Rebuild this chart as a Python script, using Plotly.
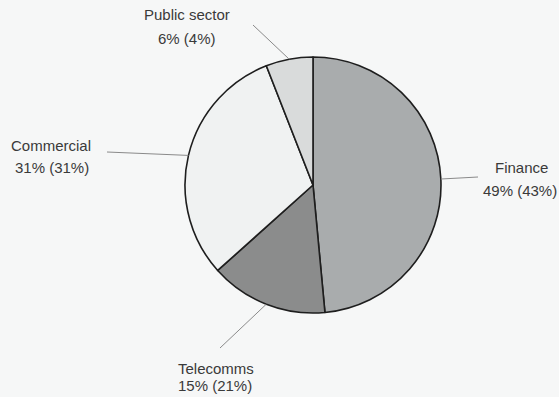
import math
import plotly.graph_objects as go

# Market sectors: current share and (in brackets) previous share, in %
sectors = ["Finance", "Telecomms", "Commercial", "Public sector"]
share_now = [49, 15, 31, 6]
share_prev = [43, 21, 31, 4]
slice_colors = ["#a9acad", "#8b8c8c", "#f0f2f2", "#d9dbdb"]

W, H = 559, 397
CX, CY, R = 313, 185, 128  # pie centre and radius in pixels

# Where each label block sits (pixel centres of its two lines) and
# where its leader line starts away from the pie
label_pos = {
    "Finance": ((521, 168), (520, 190)),
    "Telecomms": ((216, 368), (215, 385)),
    "Commercial": ((51, 145), (52, 167)),
    "Public sector": ((187, 15), (187, 38)),
}
leader_start = {
    "Finance": (478, 177),
    "Telecomms": (220, 348),
    "Commercial": (107, 152),
    "Public sector": (253, 25),
}


def px(x, y):
    return x / W, 1 - y / H


fig = go.Figure(
    go.Pie(
        labels=sectors,
        values=share_now,
        sort=False,
        direction="clockwise",
        rotation=0,
        marker=dict(colors=slice_colors, line=dict(color="#1e1e1e", width=1.6)),
        textinfo="none",
        hoverinfo="label+percent",
        showlegend=False,
        domain=dict(
            x=[(CX - R) / W, (CX + R) / W],
            y=[1 - (CY + R) / H, 1 - (CY - R) / H],
        ),
    )
)

total = sum(share_now)
shapes, annotations = [], []
cum = 0.0
for name, now, prev in zip(sectors, share_now, share_prev):
    mid = (cum + now / 2) / total * 2 * math.pi  # clockwise from 12 o'clock
    cum += now
    ex, ey = CX + R * math.sin(mid), CY - R * math.cos(mid)
    sx, sy = leader_start[name]
    x0, y0 = px(sx, sy)
    x1, y1 = px(ex, ey)
    shapes.append(
        dict(type="line", xref="paper", yref="paper", x0=x0, y0=y0, x1=x1, y1=y1,
             line=dict(color="#8a8a8a", width=1))
    )
    (l1x, l1y), (l2x, l2y) = label_pos[name]
    for text, (tx, ty) in ((name, (l1x, l1y)), (f"{now}% ({prev}%)", (l2x, l2y))):
        ax_, ay_ = px(tx, ty)
        annotations.append(
            dict(text=text, x=ax_, y=ay_, xref="paper", yref="paper",
                 xanchor="center", yanchor="middle", showarrow=False,
                 font=dict(family="Liberation Sans, Arial, sans-serif", size=15,
                           color="#3a3a3a"))
        )

fig.update_layout(
    width=W,
    height=H,
    margin=dict(l=0, r=0, t=0, b=0),
    paper_bgcolor="#f6f7f7",
    plot_bgcolor="#f6f7f7",
    shapes=shapes,
    annotations=annotations,
)

fig.write_html("out.html")
